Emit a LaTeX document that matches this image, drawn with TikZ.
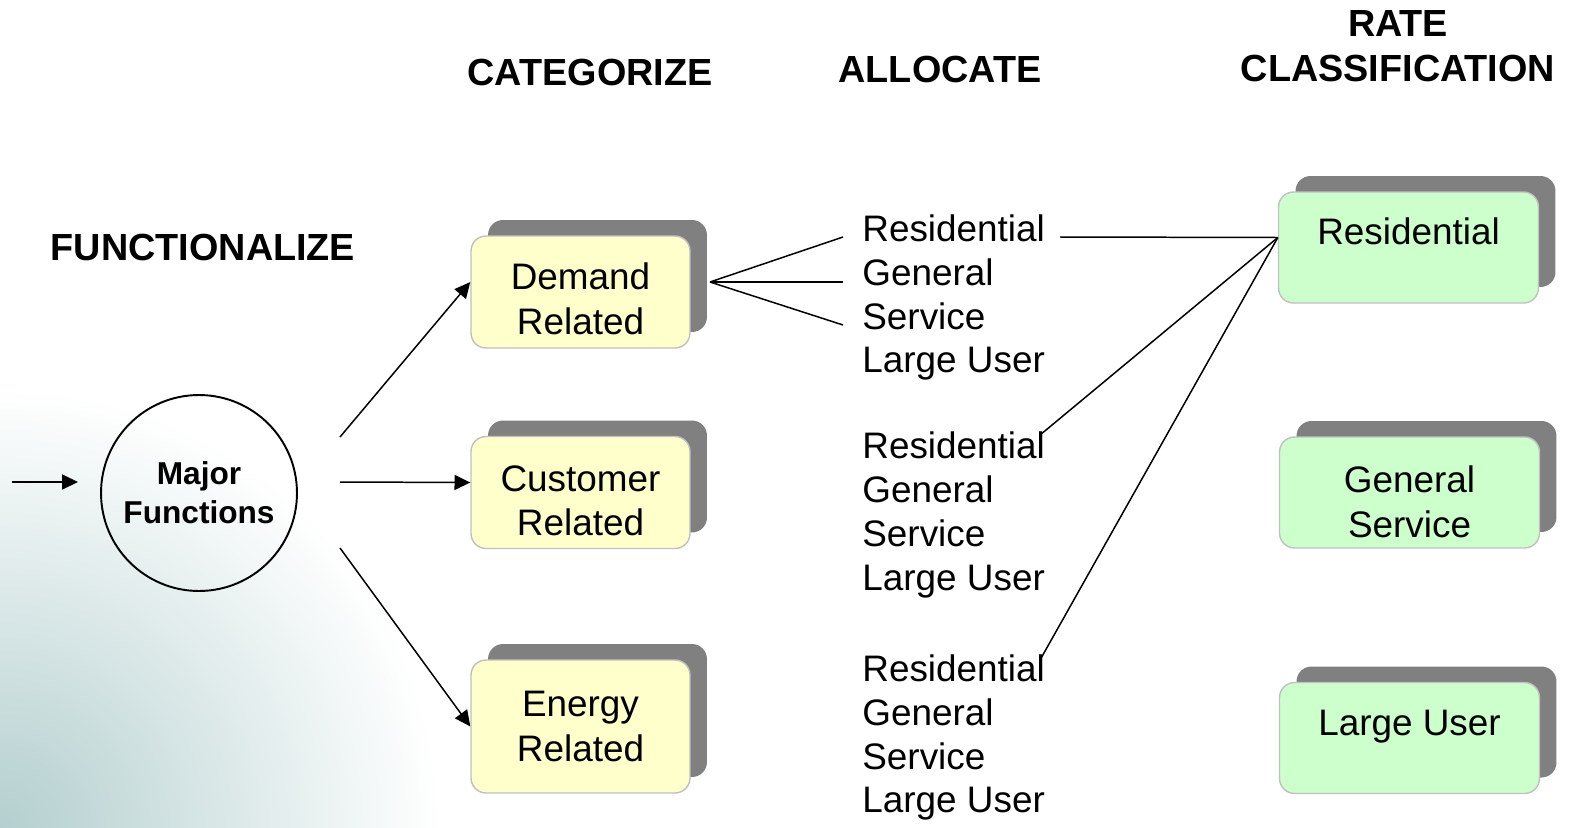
\documentclass[tikz,border=0pt]{standalone}
\usepackage{fontspec}
\setmainfont{Liberation Sans}
\usetikzlibrary{arrows.meta,shadows}
\definecolor{boxyellow}{RGB}{255,255,204}
\definecolor{boxgreen}{RGB}{204,255,204}
\definecolor{boxedge}{RGB}{192,192,192}
\definecolor{shadowgray}{RGB}{128,128,128}
\definecolor{cornerteal}{RGB}{180,207,207}

\begin{document}
\begin{tikzpicture}[x=0.02cm, y=-0.02cm,
  every node/.style={font=\fontsize{21}{25}\selectfont},
  head/.style={font=\fontsize{21.5}{25.5}\selectfont\bfseries, align=center},
  card/.style={rectangle, rounded corners=0.3cm, draw=boxedge, line width=0.8pt, align=center,
    minimum width=4.38cm, minimum height=2.24cm, font=\fontsize{21}{25.5}\selectfont,
    copy shadow={shadow xshift=0.34cm, shadow yshift=0.32cm, fill=shadowgray, draw=none}},
  yellowcard/.style={card, fill=boxyellow},
  greencard/.style={card, fill=boxgreen, minimum width=5.2cm, minimum height=2.22cm},
  alloc/.style={align=left, anchor=west, inner sep=0pt},
  arr/.style={-{Triangle[length=9pt,width=8.5pt]}, line width=0.85pt},
  link/.style={line width=0.85pt}]
\useasboundingbox (0,0) rectangle (1575,828);

% faded corner
\begin{scope}
\clip (0,0) rectangle (1575,828);
\shade[inner color=cornerteal, outer color=white] (0,828) ellipse[x radius=440, y radius=440];
\end{scope}

% headings
\node[head] (fhead) at (203,247) {FUNCTIONALIZE};
\node[head] (chead) at (590,72) {CATEGORIZE};
\node[head] (ahead) at (940,69) {ALLOCATE};
\node[head] (rhead) at (1398,46.5) {RATE\\CLASSIFICATION};

\node[circle, draw, line width=1.1pt, minimum size=3.92cm, align=center,
  font=\fontsize{18}{22}\selectfont\bfseries] (major) at (199,493) {Major\\Functions};

\node[yellowcard] (dem) at (580.5,292) {\rule{0pt}{23pt}Demand\\Related};
\node[yellowcard] (cust) at (580.5,492.5) {\rule{0pt}{24pt}Customer\\Related};
\node[yellowcard, minimum height=2.66cm] (ener) at (580.5,726.5) {Energy\\Related};

\node[alloc] (al1) at (862,297.5) {Residential\\General\\Service\\Large User};
\node[alloc] (al2) at (862,515) {Residential\\General\\Service\\Large User};
\node[alloc] (al3) at (862,737.5) {Residential\\General\\Service\\Large User};

\node[greencard] (rres) at (1408.5,247.5) {Residential\\[-0.25cm]\phantom{R}};
\node[greencard] (rgen) at (1409.5,492.5) {\rule{0pt}{26pt}General\\Service};
\node[greencard] (rlarge) at (1409.5,738) {Large User\\[-0.3cm]\phantom{L}};

\coordinate (in) at (12,482);
\coordinate (inend) at (78,482);
\coordinate (c1) at (340,437);
\coordinate (c2) at (340,482);
\coordinate (c3) at (340,548);
\coordinate (fan) at (710,282);
\coordinate (f1) at (843,237);
\coordinate (f2) at (843,282);
\coordinate (f3) at (843,325);
\coordinate (a1) at (1060,237);
\coordinate (a2) at (1040,435);
\coordinate (a3) at (1040,660);

\draw[arr] (in) -- (inend);
\draw[arr] (c1) -- ([yshift=0.2cm]dem.west);
\draw[arr] (c2) -- ([yshift=0.2cm]cust.west);
\draw[arr] (c3) -- (ener.west);

\draw[link] (fan) -- (f1);
\draw[link] (fan) -- (f2);
\draw[link] (fan) -- (f3);

\draw[link] (a1) -- ([yshift=0.2cm]rres.west);
\draw[link] (a2) -- ([yshift=0.2cm]rres.west);
\draw[link] (a3) -- ([yshift=0.2cm]rres.west);
\end{tikzpicture}
\end{document}
